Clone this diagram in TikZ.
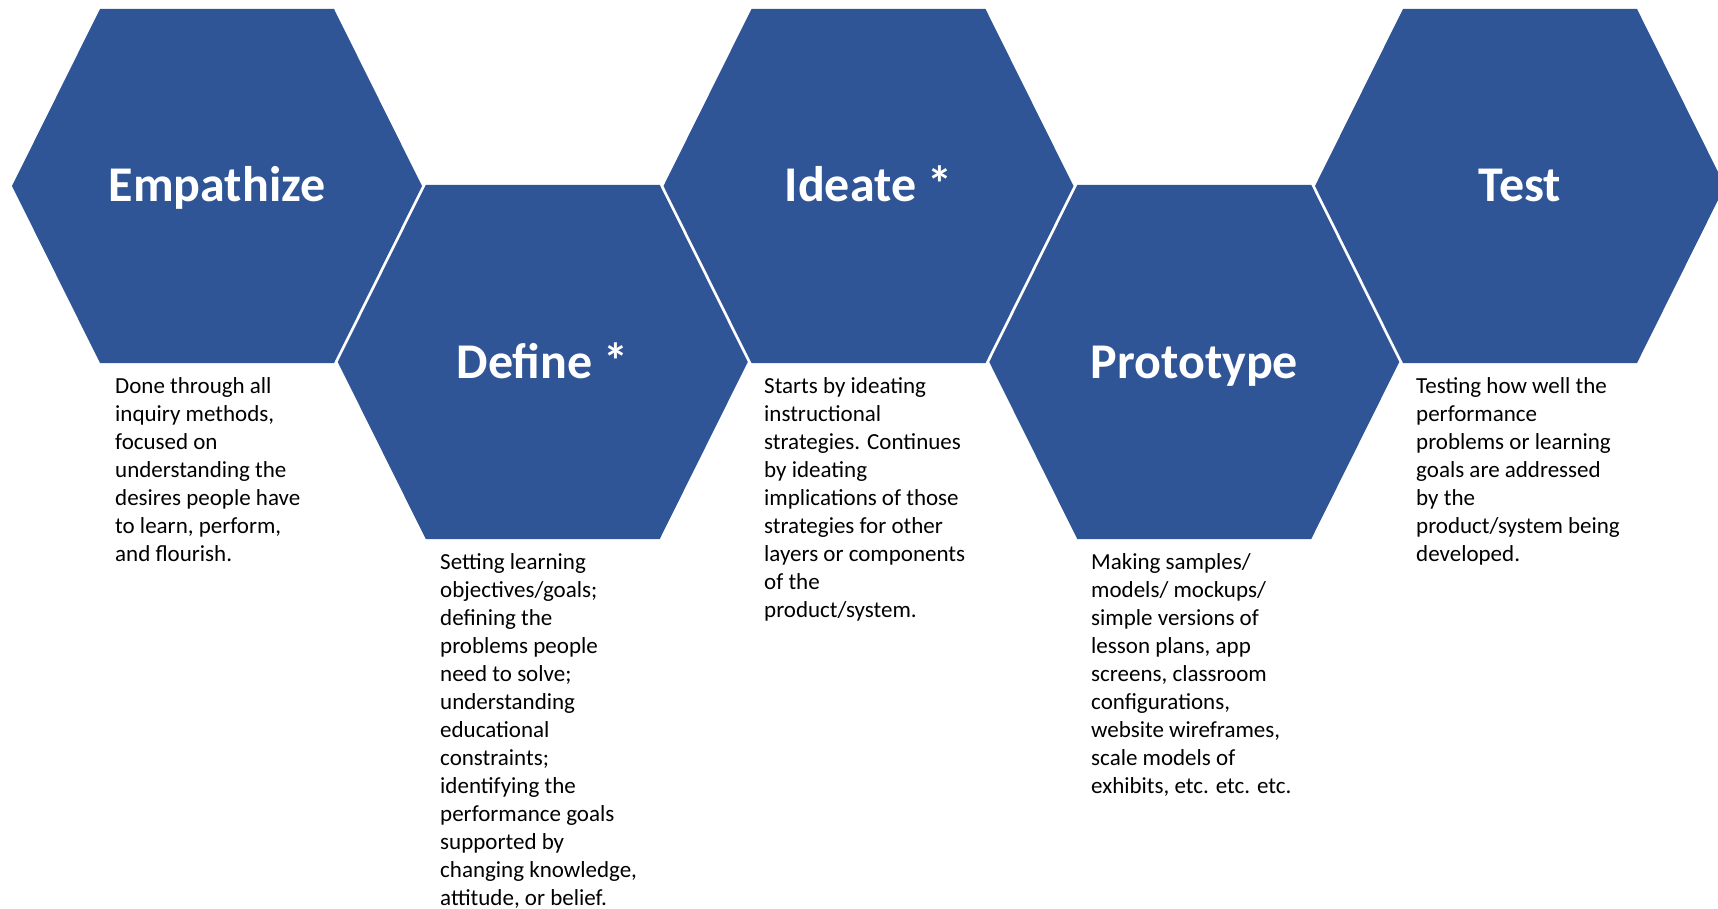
\documentclass[tikz,border=0pt]{standalone}
\usepackage{fontspec}
\setmainfont{Carlito}
\definecolor{hexblue}{RGB}{47,85,151}
\begin{document}
\begin{tikzpicture}[x=1pt,y=-1pt,
  hexa/.style={fill=hexblue},
  ttl/.style={text=white,font=\fontsize{50}{60}\selectfont\bfseries,anchor=base,inner sep=0pt},
  desc/.style={font=\fontsize{23}{28}\selectfont,align=left,anchor=base west,inner sep=0pt}]
\useasboundingbox (0,0) rectangle (1718,909);
\foreach \n/\cx/\cy in {e/217/186,d/542.75/362,i/868.5/186,p/1194.25/362,t/1520/186}{
  \coordinate (\n c) at (\cx,\cy);
  \fill[hexa] ([xshift=-205pt]\n c) -- ([xshift=-117pt,yshift=177pt]\n c) -- ([xshift=117pt,yshift=177pt]\n c)
     -- ([xshift=205pt]\n c) -- ([xshift=117pt,yshift=-177pt]\n c) -- ([xshift=-117pt,yshift=-177pt]\n c) -- cycle;
}
\node[ttl] (te) at (217,202) {Empathize};
\node[ttl] (td) at (542.75,378) {Define *};
\node[ttl] (ti) at (868.5,202) {Ideate *};
\node[ttl] (tp) at (1194.25,378) {Prototype};
\node[ttl] (tt) at (1520,202) {Test};
% base anchor of a multi-line node = baseline of its last line
\node[desc] (de) at (115,561) {Done through all\\inquiry methods,\\focused on\\understanding the\\desires people have\\to learn, perform,\\and flourish.};
\node[desc] (dd) at (440,905) {Setting learning\\objectives/goals;\\defining the\\problems people\\need to solve;\\understanding\\educational\\constraints;\\identifying the\\performance goals\\supported by\\changing knowledge,\\attitude, or belief.};
\node[desc] (di) at (764,617) {Starts by ideating\\instructional\\strategies. Continues\\by ideating\\implications of those\\strategies for other\\layers or components\\of the\\product/system.};
\node[desc] (dp) at (1091,793) {Making samples/\\models/ mockups/\\simple versions of\\lesson plans, app\\screens, classroom\\configurations,\\website wireframes,\\scale models of\\exhibits, etc. etc. etc.};
\node[desc] (dt) at (1416,561) {Testing how well the\\performance\\problems or learning\\goals are addressed\\by the\\product/system being\\developed.};
\end{tikzpicture}
\end{document}
